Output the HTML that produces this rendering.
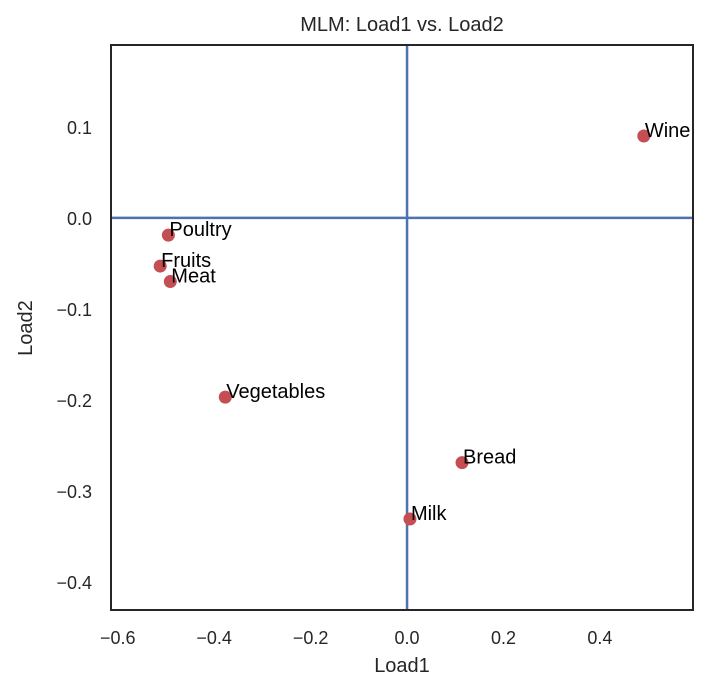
<!DOCTYPE html>
<html><head><meta charset="utf-8"><style>
html,body{margin:0;padding:0;background:#fff;}
svg{display:block;font-family:"Liberation Sans",sans-serif;}
</style></head><body>
<svg id="chart" width="716" height="697">
<text x="402" y="31" text-anchor="middle" font-size="20" fill="#262626">MLM: Load1 vs. Load2</text>
<text x="402" y="672" text-anchor="middle" font-size="20" fill="#262626">Load1</text>
<text transform="translate(32,328) rotate(-90)" text-anchor="middle" font-size="20" fill="#262626">Load2</text>
<g id="ticks"></g>
<g id="lines"></g>
<g id="points"></g>
<rect x="111" y="45" width="582" height="565" fill="none" stroke="#262626" stroke-width="2"/>
</svg>
<script>
const labels=["Wine","Poultry","Fruits","Meat","Vegetables","Bread","Milk"];
const load1=[0.491,-0.495,-0.512,-0.491,-0.377,0.114,0.006];
const load2=[0.090,-0.019,-0.053,-0.070,-0.197,-0.269,-0.331];
const xTicks=[-0.6,-0.4,-0.2,0.0,0.2,0.4];
const yTicks=[0.1,0.0,-0.1,-0.2,-0.3,-0.4];
const X0=111,X1=693,Y0=45,Y1=610,xMin=-0.614,xMax=0.593,yMin=-0.431,yMax=0.190;
const sx=v=>X0+(v-xMin)/(xMax-xMin)*(X1-X0);
const sy=v=>Y1-(v-yMin)/(yMax-yMin)*(Y1-Y0);
const NS="http://www.w3.org/2000/svg";
function mk(tag,attrs,parent){const e=document.createElementNS(NS,tag);for(const k in attrs)e.setAttribute(k,attrs[k]);parent.appendChild(e);return e;}
const tg=document.getElementById('ticks');
xTicks.forEach(v=>{const t=mk('text',{x:sx(v),y:644,'text-anchor':'middle','font-size':'18',fill:'#262626'},tg);t.textContent=(v<0?'\u2212':'')+Math.abs(v).toFixed(1);

});
yTicks.forEach(v=>{const t=mk('text',{x:92,y:sy(v)+7,'text-anchor':'end','font-size':'18',fill:'#262626'},tg);t.textContent=(v<0?'\u2212':'')+Math.abs(v).toFixed(1);

});
const lg=document.getElementById('lines');
const vl=mk('line',{x1:sx(0),x2:sx(0),y1:Y0,y2:Y1,stroke:'#4c72b0','stroke-width':'2.5'},lg);


const hl=mk('line',{x1:X0,x2:X1,y1:sy(0),y2:sy(0),stroke:'#4c72b0','stroke-width':'2.5'},lg);


const pg=document.getElementById('points');
labels.forEach((l,i)=>{const c=mk('circle',{cx:sx(load1[i]),cy:sy(load2[i]),r:6.5,fill:'#c44e52'},pg);

});
labels.forEach((l,i)=>{const t=mk('text',{x:sx(load1[i])+1,y:sy(load2[i])+1,'font-size':'20',fill:'#000'},pg);t.textContent=l;

});
</script>
</body></html>
